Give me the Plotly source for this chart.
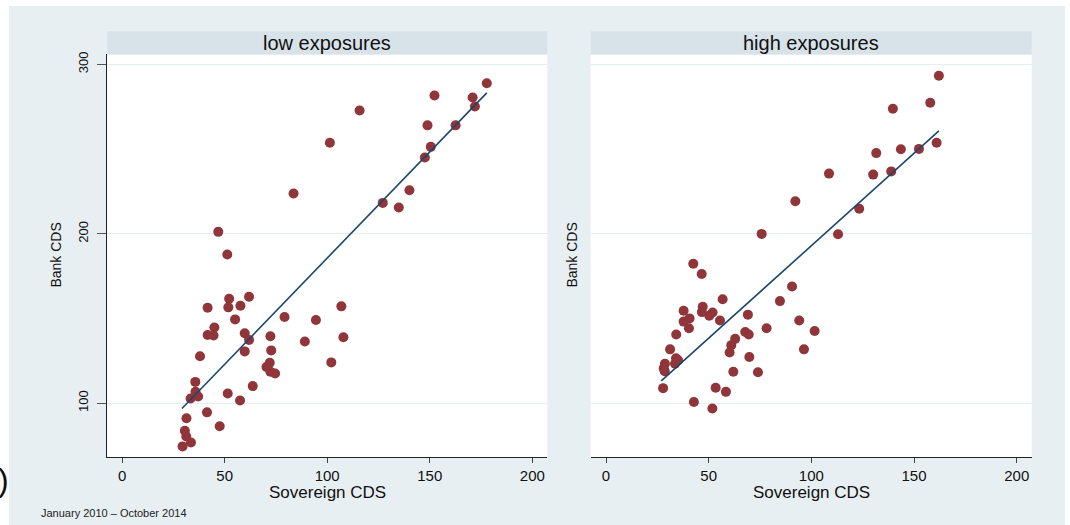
import plotly.graph_objects as go

W, H = 1070, 525

# ---------------- data ----------------
panel_titles = ["low exposures", "high exposures"]
x_title = "Sovereign CDS"
y_title = "Bank CDS"
note_text = "January 2010 \u2013 October 2014"
x_ticks = [0, 50, 100, 150, 200]
y_ticks = [100, 200, 300]

low_x = [177.8, 152.3, 170.9, 172.0, 115.8, 148.9, 162.6, 101.3, 150.5, 147.6,
         83.6, 140.1, 127.1, 134.9, 46.9, 51.3, 52.2, 61.9, 41.7, 51.8,
         57.7, 55.1, 79.2, 94.5, 106.9, 45.0, 41.7, 44.6, 59.8, 61.9,
         72.3, 89.1, 107.9, 38.0, 59.8, 72.7, 72.0, 70.4, 72.3, 74.6,
         102.0, 35.7, 35.8, 37.1, 33.4, 51.5, 63.7, 57.5, 41.4, 31.4,
         47.6, 30.6, 31.3, 33.6, 29.5]
low_y = [288.9, 281.6, 280.4, 275.1, 272.8, 264.0, 264.0, 253.7, 251.3, 245.0,
         223.8, 225.7, 218.2, 215.5, 201.1, 187.7, 161.6, 162.8, 156.3, 156.5,
         157.5, 149.4, 150.8, 149.0, 157.1, 144.6, 140.2, 139.9, 141.2, 137.3,
         139.5, 136.4, 138.9, 127.6, 130.5, 131.1, 123.8, 121.3, 118.5, 117.4,
         124.0, 112.5, 106.6, 103.9, 102.7, 105.6, 110.0, 101.5, 94.5, 91.0,
         86.3, 83.6, 80.2, 76.7, 74.4]

high_x = [162.1, 157.9, 139.7, 161.0, 143.6, 152.4, 131.6, 108.6, 130.1, 138.9,
          92.2, 123.3, 75.8, 113.0, 42.5, 46.6, 90.6, 56.8, 84.7, 37.8,
          47.1, 46.7, 51.9, 50.3, 69.1, 40.7, 37.8, 55.5, 94.1, 40.4,
          78.2, 101.6, 34.2, 67.8, 69.5, 62.9, 61.0, 60.2, 96.4, 31.2,
          69.8, 34.1, 35.1, 28.7, 33.6, 28.1, 28.6, 62.0, 74.0, 27.8,
          53.4, 58.4, 42.8, 51.8]
high_y = [293.3, 277.3, 273.8, 253.7, 249.9, 250.1, 247.6, 235.5, 234.9, 236.8,
          219.2, 214.7, 199.9, 199.7, 182.3, 176.2, 168.8, 161.3, 160.2, 154.5,
          156.9, 153.7, 153.5, 151.6, 152.2, 150.0, 148.1, 148.7, 148.7, 144.2,
          144.2, 142.6, 140.5, 142.0, 140.5, 137.9, 134.2, 129.9, 131.7, 131.7,
          127.2, 126.4, 125.2, 123.2, 123.2, 120.5, 118.8, 118.5, 118.2, 108.8,
          109.0, 106.6, 100.6, 96.8]

low_fit_x = [29.2, 177.8]
low_fit_y = [96.8, 283.2]
high_fit_x = [26.9, 162.1]
high_fit_y = [113.1, 260.7]

# ---------------- styling ----------------
FONT = "Liberation Sans, Arial, Helvetica, sans-serif"
BG = "#e8eff2"
STRIP = "#d8e3e9"
GRID = "#e6eef1"
MARKER = "#903539"
LINE = "#1a476f"


def px(x):
    return x / W


def py(y):
    return 1 - y / H


plot_top, plot_bottom = 51.7, 456.5
strip_top = 28.3
panels = [(107.3, 547.3), (590.7, 1031.7)]
ydom = [py(plot_bottom), py(plot_top)]

fig = go.Figure()

for i, (xs, ys, fx, fy) in enumerate([(low_x, low_y, low_fit_x, low_fit_y),
                                       (high_x, high_y, high_fit_x, high_fit_y)]):
    xa = "x" if i == 0 else "x2"
    ya = "y" if i == 0 else "y2"
    fig.add_trace(go.Scatter(x=xs, y=ys, mode="markers", xaxis=xa, yaxis=ya,
                             marker=dict(color=MARKER, size=10, line=dict(width=0)),
                             showlegend=False, hoverinfo="x+y"))
    fig.add_trace(go.Scatter(x=fx, y=fy, mode="lines", xaxis=xa, yaxis=ya,
                             line=dict(color=LINE, width=1.6),
                             showlegend=False, hoverinfo="skip"))

xaxis_common = dict(tickvals=x_ticks, ticks="outside", ticklen=5, tickwidth=1,
                    tickcolor="#444444", showline=True, linecolor="#222222",
                    linewidth=1.3, showgrid=False, zeroline=False,
                    tickfont=dict(family=FONT, size=15, color="#111111"),
                    fixedrange=True)
yaxis_common = dict(range=[68.2, 305.9], tickvals=y_ticks, showgrid=True,
                    gridcolor=GRID, gridwidth=1, zeroline=False, domain=ydom,
                    fixedrange=True)

shapes = [
    dict(type="rect", xref="paper", yref="paper", x0=px(9), x1=px(1065),
         y0=0, y1=py(3), fillcolor=BG, line=dict(width=0), layer="below"),
]
annotations = []
for i, (l, r) in enumerate(panels):
    shapes.append(dict(type="rect", xref="paper", yref="paper", x0=px(l), x1=px(r),
                       y0=py(plot_bottom), y1=py(plot_top), fillcolor="white",
                       line=dict(width=0), layer="below"))
    shapes.append(dict(type="rect", xref="paper", yref="paper", x0=px(l), x1=px(r),
                       y0=py(plot_top), y1=py(strip_top), fillcolor=STRIP,
                       line=dict(width=0), layer="below"))
    cx = (l + r) / 2
    annotations.append(dict(text=panel_titles[i], xref="paper", yref="paper",
                            x=px(cx), y=py(40), xanchor="center", yanchor="middle",
                            showarrow=False,
                            font=dict(family=FONT, size=20, color="#111111")))
    annotations.append(dict(text=x_title, xref="paper", yref="paper",
                            x=px(cx), y=py(492), xanchor="center", yanchor="middle",
                            showarrow=False,
                            font=dict(family=FONT, size=17, color="#111111")))

for xc in (56, 572):
    annotations.append(dict(text=y_title, xref="paper", yref="paper",
                            x=px(xc), y=py(254), xanchor="center", yanchor="middle",
                            textangle=-90, showarrow=False,
                            font=dict(family=FONT, size=14, color="#111111")))

annotations.append(dict(text=note_text, xref="paper", yref="paper",
                        x=px(39), y=py(513), xanchor="left", yanchor="middle",
                        showarrow=False,
                        font=dict(family=FONT, size=11, color="#222222")))
annotations.append(dict(text=")", xref="paper", yref="paper",
                        x=px(11), y=py(480), xanchor="right", yanchor="middle",
                        showarrow=False,
                        font=dict(family=FONT, size=32, color="#111111")))

fig.update_layout(
    width=W, height=H,
    margin=dict(l=0, r=0, t=0, b=0),
    paper_bgcolor="white",
    plot_bgcolor="rgba(0,0,0,0)",
    showlegend=False,
    xaxis=dict(domain=[px(panels[0][0]), px(panels[0][1])], range=[-7.2, 207.3],
               anchor="y", **xaxis_common),
    xaxis2=dict(domain=[px(panels[1][0]), px(panels[1][1])], range=[-7.45, 207.3],
                anchor="y2", **xaxis_common),
    yaxis=dict(anchor="x", ticks="outside", ticklen=9, tickwidth=1,
               tickcolor="#555555", showline=True, linecolor="#222222",
               linewidth=1.3, tickangle=-90, ticklabelstandoff=4,
               tickfont=dict(family=FONT, size=13, color="#111111"),
               **yaxis_common),
    yaxis2=dict(anchor="x2", ticks="", showline=False, showticklabels=False,
                **yaxis_common),
    shapes=shapes,
    annotations=annotations,
)

fig.write_html("out.html")
